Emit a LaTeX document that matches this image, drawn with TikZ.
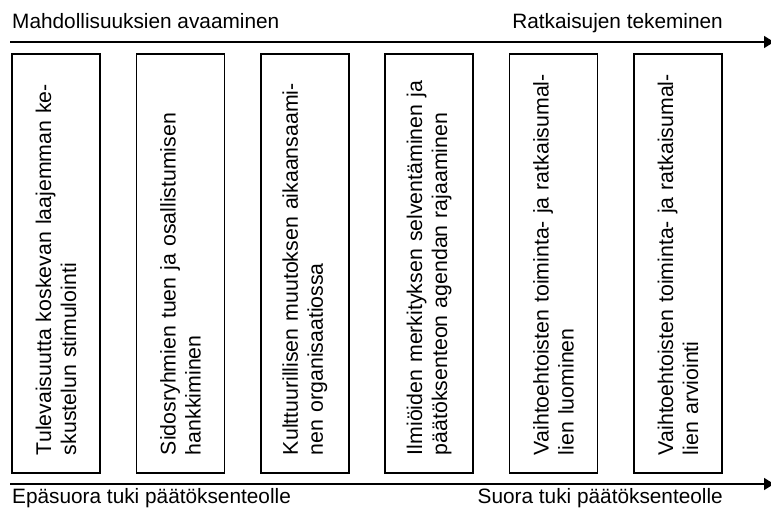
\documentclass[tikz,border=0pt]{standalone}
\usepackage{fontspec}
\setmainfont{Liberation Sans}
\usepackage{tikz}
\usetikzlibrary{arrows.meta,positioning}
\tikzset{
  phase/.style={draw,line width=1.5pt,rotate=90,minimum width=419pt,minimum height=88pt,
    text width=383pt,align=left,inner xsep=0pt,
    font=\fontsize{21.3}{25}\selectfont},
  axis/.style={line width=1.5pt,-{Triangle[length=10pt,width=12pt]}},
  label/.style={font=\fontsize{20.8}{25}\selectfont,inner sep=0pt}
}

\begin{document}
\begin{tikzpicture}[x=1pt,y=-1pt]
  \useasboundingbox (0,0) rectangle (771,508);
  % axes
  \coordinate (tl) at (10,42);
  \coordinate (tr) at (774,42);
  \coordinate (bl) at (10,484);
  \coordinate (br) at (774,484);
  \draw[axis] (tl) -- (tr);
  \draw[axis] (bl) -- (br);
  \node[label,anchor=base west] (open) at (12,29) {Mahdollisuuksien avaaminen};
  \node[label,anchor=base east] (make) at (723,29) {Ratkaisujen tekeminen};
  \node[label,anchor=base west] (indirect) at (12,503) {Epäsuora tuki päätöksenteolle};
  \node[label,anchor=base east] (direct) at (723,503) {Suora tuki päätöksenteolle};
  % phases
  \foreach \i/\txt in {
    0/{Tulevaisuutta koskevan laajemman ke-\\skustelun stimulointi},
    1/{Sidosryhmien tuen ja osallistumisen\\hankkiminen},
    2/{Kulttuurillisen muutoksen aikaansaami-\\nen organisaatiossa},
    3/{Ilmiöiden merkityksen selventäminen ja\\päätöksenteon agendan rajaaminen},
    4/{Vaihtoehtoisten toiminta- ja ratkaisumal-\\lien luominen},
    5/{Vaihtoehtoisten toiminta- ja ratkaisumal-\\lien arviointi}}{
    \node[phase] (p\i) at (56+\i*124.4,263.5) {\txt};
  }
\end{tikzpicture}
\end{document}
